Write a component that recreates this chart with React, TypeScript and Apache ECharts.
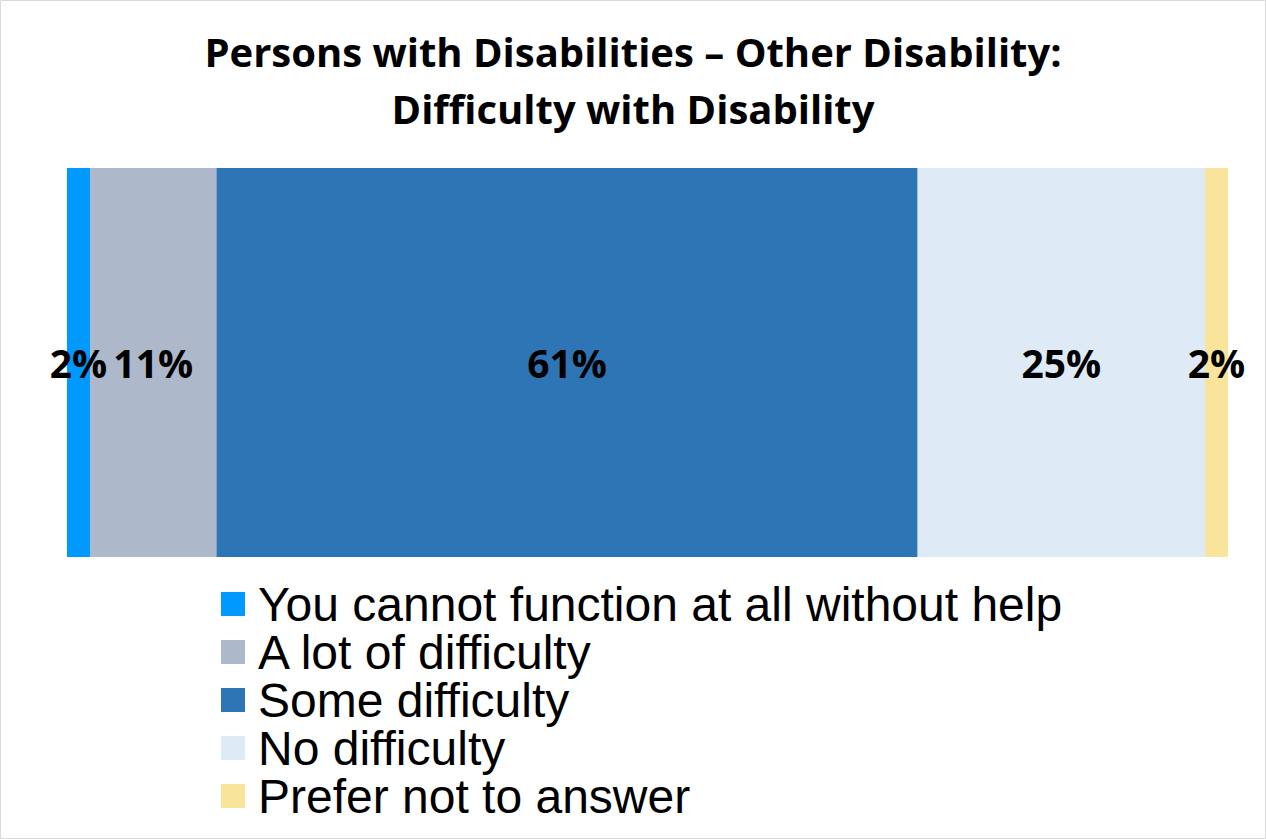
import React, { useEffect, useRef } from "react";
import * as echarts from "echarts";

const titleLines = ["Persons with Disabilities – Other Disability:", "Difficulty with Disability"];
const categories = ["Other Disability"];
const seriesNames = [
  "You cannot function at all without help",
  "A lot of difficulty",
  "Some difficulty",
  "No difficulty",
  "Prefer not to answer",
];
const seriesValues = [2, 11, 61, 25, 2];
const seriesColors = ["#0099FF", "#ADB9CA", "#2E75B6", "#DEEBF7", "#F8E59B"];

export default function App() {
  const ref = useRef<HTMLDivElement>(null);
  useEffect(() => {
    if (!ref.current) return;
    const chart = echarts.init(ref.current, null, { renderer: "svg" });
    const total = seriesValues.reduce((a, b) => a + b, 0);
    chart.setOption({
      animation: false,
      backgroundColor: "#FFFFFF",
      title: {
        text: titleLines.join("\n"),
        left: "center",
        top: 18,
        textStyle: {
          fontFamily: "Open Sans",
          fontWeight: "bold",
          fontSize: 40,
          lineHeight: 57,
          color: "#000000",
        },
      },
      graphic: [
        {
          type: "rect",
          shape: { x: 0.5, y: 0.5, width: 1265, height: 838 },
          style: { fill: "none", stroke: "#D9D9D9", lineWidth: 1 },
          silent: true,
        },
      ],
      grid: { left: 67, right: 38, top: 168, bottom: 282 },
      xAxis: { type: "value", min: 0, max: total, show: false },
      yAxis: { type: "category", data: categories, show: false },
      legend: {
        orient: "vertical",
        left: 216,
        top: 575,
        itemWidth: 24,
        itemHeight: 24,
        itemGap: 0,
        icon: "rect",
        data: seriesNames,
        textStyle: {
          fontFamily: "Arial",
          fontSize: 48,
          lineHeight: 48,
          color: "#000000",
          padding: [0, 0, 0, 8],
        },
      },
      series: seriesNames.map((name, i) => ({
        name,
        type: "bar",
        stack: "total",
        barCategoryGap: 0,
        data: [seriesValues[i]],
        itemStyle: { color: seriesColors[i] },
        label: {
          show: true,
          position: "inside",
          formatter: "{c}%",
          color: "#000000",
          fontFamily: "Open Sans",
          fontWeight: "bold",
          fontSize: 39,
        },
      })),
    });
    return () => chart.dispose();
  }, []);
  return (
    <div
      ref={ref}
      style={{ position: "fixed", left: 0, top: 0, width: 1266, height: 839 }}
    />
  );
}
